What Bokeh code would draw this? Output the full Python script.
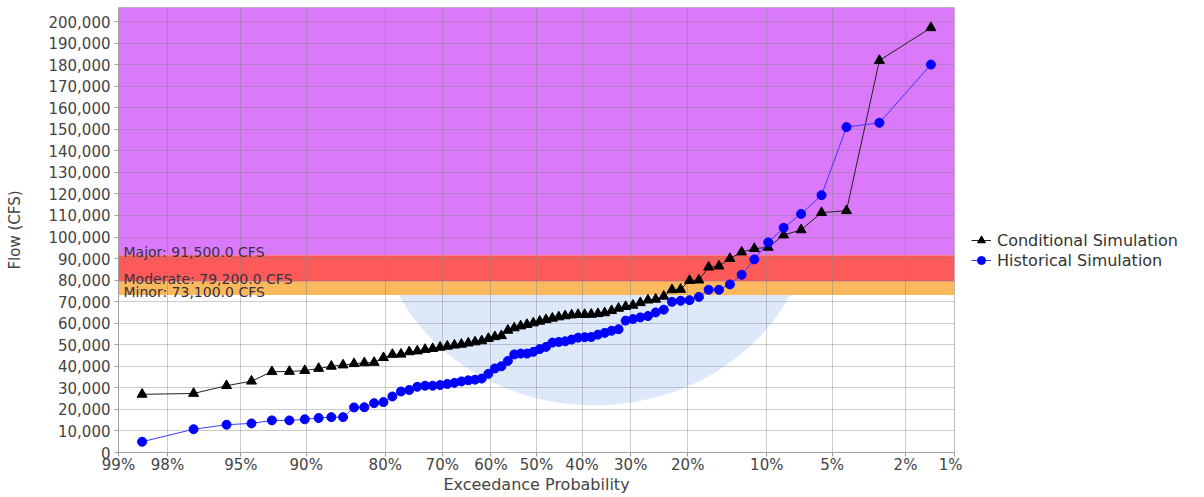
from statistics import NormalDist
import numpy as np
from bokeh.plotting import figure
from bokeh.layouts import row
from bokeh.models import (BoxAnnotation, Label, Legend, LegendItem, FixedTicker,
                          CustomJSTickFormatter, NumeralTickFormatter, Range1d)
from bokeh.embed import file_html
from bokeh.resources import INLINE

# ---------------- data ----------------
exceedance_ticks = [99, 98, 95, 90, 80, 70, 60, 50, 40, 30, 20, 10, 5, 2, 1]
tick_labels = [f"{t}%" for t in exceedance_ticks]
y_ticks = list(range(0, 200001, 10000))

# sorted flows (CFS), lowest to highest
conditional = [27000, 27400, 31000, 33100, 37500, 37600, 38000, 39000, 40000, 40600,
               41200, 41600, 41800, 44000, 45500, 45600, 46700, 47100, 47800, 48200,
               48800, 49300, 49800, 50200, 50800, 51300, 51800, 52900, 53700, 54200,
               56700, 57800, 58700, 59400, 60100, 60900, 61600, 62300, 62900, 63400,
               63800, 64000, 64000, 64100, 64400, 64800, 65800, 66900, 67700, 68300,
               69500, 70700, 71100, 72500, 75500, 75700, 79800, 80000, 86000, 86500,
               90000, 93000, 94600, 95200, 100900, 103300, 111300, 112200, 181900, 197100]
historical = [5000, 10800, 12900, 13500, 14900, 14900, 15400, 16000, 16400, 16400,
              20900, 21000, 22900, 23400, 26000, 28300, 29000, 30500, 31000, 31000,
              31300, 31800, 32300, 33000, 33500, 33800, 34300, 36500, 39000, 40000,
              42500, 45500, 45900, 45900, 46700, 48000, 49000, 51000, 51300, 51600,
              52400, 53300, 53500, 53600, 54700, 55500, 56500, 57200, 61200, 61900,
              62700, 63300, 65000, 66300, 69900, 70400, 70700, 72200, 75500, 75500,
              78000, 82500, 89600, 97500, 104300, 110700, 119400, 151000, 153000, 180000]

threshold_names = ["Major", "Moderate", "Minor"]
threshold_values = [91500, 79200, 73100]
threshold_colors = ["#DA7AFA", "#FF5A5A", "#F9B95C"]
series_names = ["Conditional Simulation", "Historical Simulation"]

# ---------------- scales ----------------
nd = NormalDist()
def zpos(nonexceed):
    return nd.inv_cdf(nonexceed)

def plotting_positions(n):
    return [zpos(k / (n + 1)) for k in range(1, n + 1)]

x_cond = plotting_positions(len(conditional))
x_hist = plotting_positions(len(historical))
tick_z = [zpos(1 - t / 100) for t in exceedance_ticks]

FONT = "DejaVu Sans"
COND_STYLE = dict(line=dict(line_color="#222222", line_width=1),
                  mark=dict(marker="triangle", size=10, fill_color="black", line_color="black"))
HIST_STYLE = dict(line=dict(line_color="#3a3aff", line_width=1),
                  mark=dict(marker="circle", size=9, fill_color="#0000ff", line_color="#0000ff"))

p = figure(width=962, height=497, output_backend="svg", toolbar_location=None,
           x_range=Range1d(zpos(0.01), zpos(0.99)), y_range=Range1d(0, 206500),
           min_border_left=118, min_border_right=8, min_border_top=7, min_border_bottom=45)
p.background_fill_color = "white"
p.outline_line_color = "#bdbdbd"

# threshold bands
tops = [None, threshold_values[0], threshold_values[1]]
for bottom, top, color in zip(threshold_values, tops, threshold_colors):
    p.add_layout(BoxAnnotation(bottom=bottom, top=top, fill_color=color, fill_alpha=1.0,
                               line_color=None, level="image"))

# faint watermark disc (decoration) below the minor band
t = np.linspace(0, 2 * np.pi, 240)
wx = 0.323 + 1.213 * np.cos(t)
wy = np.minimum(113500 + 91600 * np.sin(t), threshold_values[2])
wm = p.patch(wx, wy, fill_color="#dde9fb", fill_alpha=1.0, line_color=None)
wm.level = "image"

# threshold labels
for name, val in zip(threshold_names, threshold_values):
    p.add_layout(Label(x=zpos(0.01), y=val, x_offset=5, y_offset=3,
                       text=f"{name}: {val:,.1f} CFS", text_font=FONT, text_font_size="14px",
                       text_color="#3a3040", text_baseline="alphabetic"))

# series
p.line(x_cond, conditional, **COND_STYLE["line"])
p.scatter(x_cond, conditional, **COND_STYLE["mark"])
p.line(x_hist, historical, **HIST_STYLE["line"])
p.scatter(x_hist, historical, **HIST_STYLE["mark"])

# axes
p.xaxis.ticker = FixedTicker(ticks=tick_z)
p.xaxis.formatter = CustomJSTickFormatter(args=dict(tvals=tick_z, tlabels=tick_labels), code="""
let best = 0, d = Infinity;
for (let i = 0; i < tvals.length; i++) {
  const e = Math.abs(tvals[i] - tick);
  if (e < d) { d = e; best = i; }
}
return tlabels[best];
""")
p.yaxis.ticker = FixedTicker(ticks=y_ticks)
p.yaxis.formatter = NumeralTickFormatter(format="0,0")
p.xgrid.ticker = FixedTicker(ticks=tick_z)
p.ygrid.ticker = FixedTicker(ticks=y_ticks)
for g in (p.xgrid, p.ygrid):
    g.grid_line_color = "#808080"
    g.grid_line_alpha = 0.4

for ax in (p.xaxis, p.yaxis):
    ax.axis_line_color = "#a0a0a0"
    ax.major_tick_line_color = "#a0a0a0"
    ax.minor_tick_line_color = None
    ax.major_tick_out = 4
    ax.major_tick_in = 0
    ax.major_label_text_font = FONT
    ax.major_label_text_font_size = "15px"
    ax.major_label_text_color = "#444444"
    ax.axis_label_text_font = FONT
    ax.axis_label_text_font_style = "normal"
    ax.axis_label_text_color = "#444444"

p.xaxis.axis_label = "Exceedance Probability"
p.xaxis.axis_label_text_font_size = "16px"
p.xaxis.major_label_standoff = -1
p.xaxis.axis_label_standoff = -2

p.yaxis.axis_label = "Flow (CFS)"
p.yaxis.axis_label_text_font_size = "15px"
p.yaxis.major_label_standoff = 4
p.yaxis.axis_label_standoff = 21

# ---------------- legend panel (right of the plot) ----------------
# same series drawn in a panel whose ranges keep the marks out of view;
# only its legend is visible
lg = figure(width=242, height=497, output_backend="svg", toolbar_location=None,
            x_range=Range1d(10, 11), y_range=Range1d(-2, -1),
            min_border_left=0, min_border_right=0, min_border_top=7, min_border_bottom=45)
lg.axis.visible = False
lg.grid.visible = False
lg.outline_line_color = None
lc1 = lg.line(x_cond, conditional, **COND_STYLE["line"])
lc2 = lg.scatter(x_cond, conditional, **COND_STYLE["mark"])
lh1 = lg.line(x_hist, historical, **HIST_STYLE["line"])
lh2 = lg.scatter(x_hist, historical, **HIST_STYLE["mark"])
legend = Legend(items=[LegendItem(label=series_names[0], renderers=[lc1, lc2]),
                       LegendItem(label=series_names[1], renderers=[lh1, lh2])],
                location=(9, 182), orientation="vertical",
                label_text_font=FONT, label_text_font_size="16px", label_text_color="#333333",
                glyph_width=20, glyph_height=20, label_height=20, label_standoff=6,
                spacing=0, padding=0, margin=0,
                background_fill_alpha=0, border_line_alpha=0)
lg.add_layout(legend)

layout = row(p, lg, spacing=0)
open("out.html", "w").write(file_html(layout, INLINE))
